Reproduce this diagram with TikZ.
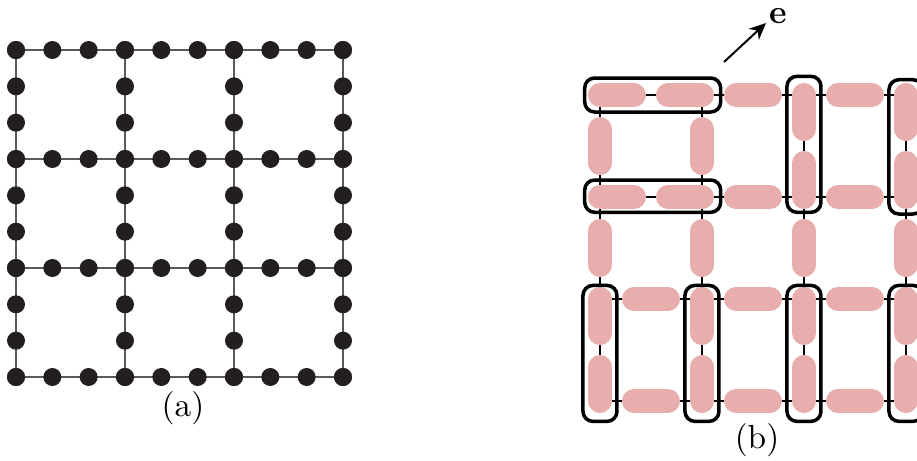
\documentclass[tikz,border=0pt]{standalone}
\usepackage{xcolor}
\usepackage{tikz}
\usepackage{amssymb}
\usetikzlibrary{arrows.meta}

\definecolor{sitecol}{HTML}{231F20}
\definecolor{pairpink}{HTML}{E8AEAE}

\begin{document}
\begin{tikzpicture}[
  x=0.3pt, y=-0.3pt,
  site/.style={fill=sitecol},
  edge/.style={draw=black!65, line width=0.45pt},
  link/.style={draw=black, line width=0.35pt},
  dimer/.style={draw=pairpink, line width=7.2pt, line cap=round},
  block/.style={draw=black, line width=1.05pt, rounded corners=3pt},
  arrow/.style={-{Stealth[length=5pt,width=4.5pt]}, line width=0.6pt}
]
  \useasboundingbox (0,0) rectangle (917,460);

  % (a)
  \begin{scope}[xshift=4.8pt, yshift=-15pt, x=10.9pt, y=-10.9pt]
    \foreach \a in {0,3,6,9} {
      \draw[edge] (0,\a) -- (9,\a);
      \draw[edge] (\a,0) -- (\a,9);
    }
    \foreach \a in {0,3,6,9} {
      \foreach \k in {0,...,9} {
        \fill[site] (\a,\k) circle (2.7pt);
        \fill[site] (\k,\a) circle (2.7pt);
      }
    }
  \end{scope}
  \node (labela) at (183,408) {(a)};

  % (b)
  \begin{scope}[xshift=180pt, yshift=-28.5pt, x=10.2pt, y=-10.2pt]
    \foreach \a in {0,3,6,9} {
      \draw[link] (0,\a) -- (9,\a);
      \draw[link] (\a,0) -- (\a,9);
    }
    \foreach \r/\c in {0/0,0/2,0/4,0/7,3/0,3/2,3/4,3/7,6/1,6/4,6/7,9/1,9/4,9/7}
      \draw[dimer] (\c,\r) -- ++(1,0);
    \foreach \c/\r in {0/1,0/4,0/6,0/8,3/1,3/4,3/6,3/8,6/0,6/2,6/4,6/6,6/8,9/0,9/2,9/4,9/6,9/8}
      \draw[dimer] (\c,\r) -- ++(0,1);

    \draw[block] (-0.45,-0.5) rectangle (3.55,0.5);
    \draw[block] (-0.45,2.5) rectangle (3.55,3.45);
    \draw[block] (5.5,-0.55) rectangle (6.5,3.45);
    \draw[block] (8.5,-0.45) rectangle (9.5,3.5);
    \foreach \c in {0,3,6,9}
      \draw[block] (\c-0.5,5.6) rectangle (\c+0.5,9.6);
  \end{scope}

  \coordinate (tail) at (724,62);
  \coordinate (tip) at (766,23);
  \draw[arrow] (tail) -- (tip);
  \node[inner sep=0pt] (evec) at (778,16) {$\mathbf{e}$};
  \node (labelb) at (757,440) {(b)};
\end{tikzpicture}
\end{document}
